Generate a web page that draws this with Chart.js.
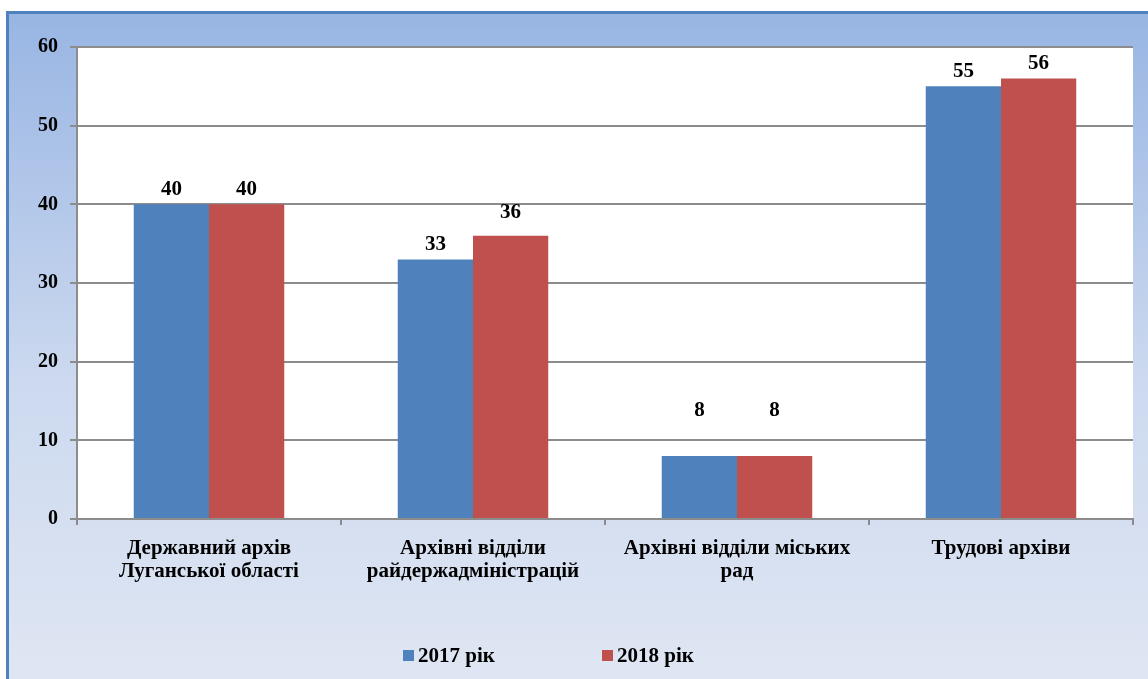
<!DOCTYPE html>
<html>
<head>
<meta charset="utf-8">
<script src="https://cdn.jsdelivr.net/npm/chart.js@4.4.1/dist/chart.umd.min.js"></script>
<style>
  html, body { margin: 0; padding: 0; background: #fff; }
  #wrap { width: 1148px; height: 679px; }
</style>
</head>
<body>
<div id="wrap"><canvas id="archiveChart" width="1148" height="679"></canvas></div>
<script>
// archive chart

const categories = [
  ['Державний архів', 'Луганської області'],
  ['Архівні відділи', 'райдержадміністрацій'],
  ['Архівні відділи міських', 'рад'],
  'Трудові архіви'
];
const values2017 = [40, 33, 8, 55];
const values2018 = [40, 36, 8, 56];
const seriesNames = ['2017 рік', '2018 рік'];
const yTicks = [0, 10, 20, 30, 40, 50, 60];

const FONT = '"Liberation Serif", "Times New Roman", serif';
const BLUE = '#4f81bd';
const RED = '#c0504d';

// background frame + white plot area
const framePlugin = {
  id: 'frame',
  beforeDraw(chart) {
    const c = chart.ctx;
    const a = chart.chartArea;
    c.save();
    c.fillStyle = '#ffffff';
    c.fillRect(0, 0, chart.width, chart.height);
    const g = c.createLinearGradient(0, 12, 0, chart.height);
    g.addColorStop(0, '#98b5e3');
    g.addColorStop(0.55, '#ccd9ef');
    g.addColorStop(1, '#dfe6f3');
    c.fillStyle = g;
    c.fillRect(7, 12, chart.width, chart.height);
    c.strokeStyle = BLUE;
    c.lineWidth = 3;
    c.beginPath();
    c.moveTo(7.5, chart.height + 5);
    c.lineTo(7.5, 12.5);
    c.lineTo(chart.width + 5, 12.5);
    c.stroke();
    c.fillStyle = '#ffffff';
    c.fillRect(a.left, a.top, a.right - a.left, a.bottom - a.top);
    c.restore();
  }
};

// values above bars
const valueLabels = {
  id: 'valueLabels',
  afterDatasetsDraw(chart, args, opts) {
    const c = chart.ctx;
    c.save();
    c.font = 'bold 21px ' + FONT;
    c.fillStyle = '#000';
    c.textAlign = 'center';
    c.textBaseline = 'bottom';
    chart.data.datasets.forEach((ds, i) => {
      chart.getDatasetMeta(i).data.forEach((bar, j) => {
        const extra = opts.extraLift[i + ',' + j] || 0;
        c.fillText(ds.data[j], bar.x, bar.y - 4 - extra);
      });
    });
    c.restore();
  }
};

// legend at the bottom
const bottomLegend = {
  id: 'bottomLegend',
  afterDraw(chart) {
    const c = chart.ctx;
    const xs = [403, 602];
    const y = 657;
    c.save();
    c.font = 'bold 21px ' + FONT;
    c.textBaseline = 'middle';
    c.textAlign = 'left';
    chart.data.datasets.forEach((ds, i) => {
      c.fillStyle = ds.backgroundColor;
      c.fillRect(xs[i], y - 7, 11, 11);
      c.fillStyle = '#000';
      c.fillText(ds.label, xs[i] + 15, y);
    });
    c.restore();
  }
};

const ctx = document.getElementById('archiveChart').getContext('2d');

const archiveChart = new Chart(ctx, {
  type: 'bar',
  data: {
    labels: categories,
    datasets: [
      { label: seriesNames[0], data: values2017, backgroundColor: BLUE },
      { label: seriesNames[1], data: values2018, backgroundColor: RED }
    ]
  },
  options: {
    responsive: false,
    animation: false,
    layout: { padding: { top: 47, right: 15, bottom: 0, left: 0 } },
    datasets: {
      bar: { categoryPercentage: 0.57, barPercentage: 1.0 }
    },
    plugins: {
      legend: { display: false },
      tooltip: { enabled: false },
      valueLabels: { extraLift: { '0,2': 31, '1,2': 31, '1,1': 9 } }
    },
    scales: {
      x: {
        afterFit(scale) { scale.height = 160; },
        grid: {
          offset: true,
          drawOnChartArea: false,
          drawTicks: true,
          tickLength: 6,
          color: '#8c8c8c',
          lineWidth: 2
        },
        border: { color: '#8c8c8c', width: 2 },
        ticks: {
          color: '#000',
          padding: 12,
          maxRotation: 0,
          font: { family: FONT, size: 21, weight: 'bold', lineHeight: 1.1 }
        }
      },
      y: {
        min: 0,
        max: 60,
        afterFit(scale) { scale.width = 77; },
        afterBuildTicks(scale) { scale.ticks = yTicks.map(v => ({ value: v })); },
        grid: {
          color: '#8c8c8c',
          lineWidth: 2,
          tickLength: 7
        },
        border: { color: '#8c8c8c', width: 2 },
        ticks: {
          color: '#000',
          padding: 12,
          font: { family: FONT, size: 20, weight: 'bold' }
        }
      }
    }
  },
  plugins: [framePlugin, valueLabels, bottomLegend]
});
</script>
</body>
</html>
